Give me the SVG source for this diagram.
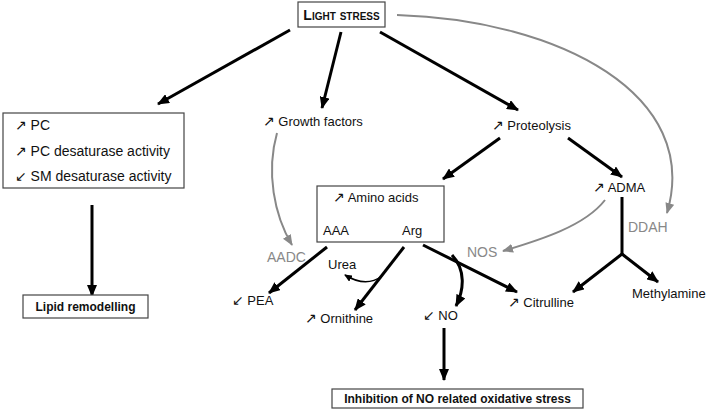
<svg xmlns="http://www.w3.org/2000/svg" width="708" height="411" viewBox="0 0 708 411">
<defs>
<marker id="ab" markerUnits="userSpaceOnUse" markerWidth="12" markerHeight="10" refX="11" refY="5" orient="auto"><path d="M0,0 L12,5 L0,10 z" fill="#000"/></marker>
<marker id="ag" markerUnits="userSpaceOnUse" markerWidth="11" markerHeight="9" refX="10" refY="4.5" orient="auto"><path d="M0,0 L11,4.5 L0,9 z" fill="#888"/></marker>
<marker id="as" markerUnits="userSpaceOnUse" markerWidth="8" markerHeight="7" refX="7" refY="3.5" orient="auto"><path d="M0,0 L8,3.5 L0,7 z" fill="#000"/></marker>
<style>
text{font-family:"Liberation Sans",Arial,sans-serif;font-size:13px;fill:#111}
.ar{font-family:"DejaVu Sans",sans-serif;font-size:14px}
.l{font-size:14px}
.b{font-weight:bold;font-size:12px}
.g{fill:#888;font-size:14px}
.box{fill:#fff;stroke:#444;stroke-width:1.2}
.k{fill:none;stroke:#000;stroke-width:3;marker-end:url(#ab)}
.gr{fill:none;stroke:#888;stroke-width:2;marker-end:url(#ag)}
.ln{fill:none;stroke:#000;stroke-width:3}
</style>
</defs>
<g id="connectors">
<line class="k" x1="290" y1="30" x2="158" y2="104"/>
<line class="k" x1="341" y1="32" x2="322" y2="108"/>
<line class="k" x1="380" y1="32" x2="518" y2="110"/>
<path class="gr" d="M397,15 C560,20 702,95 667,213"/>
<line class="k" x1="92" y1="205" x2="92" y2="296"/>
<path class="gr" d="M277,133 C266,172 274,215 292,245"/>
<line class="k" x1="500" y1="138" x2="443" y2="179"/>
<line class="k" x1="568" y1="138" x2="622" y2="177"/>
<path class="gr" d="M605,200 C585,226 540,240 503,251"/>
<line class="ln" x1="622" y1="197" x2="622" y2="254"/>
<line class="k" x1="622" y1="254" x2="573" y2="292"/>
<line class="k" x1="622" y1="254" x2="658" y2="282"/>
<line class="k" x1="327" y1="247" x2="269" y2="293"/>
<line class="k" x1="404" y1="247" x2="355" y2="310"/>
<path d="M382,276 Q366,288 345,275" fill="none" stroke="#000" stroke-width="1.5" marker-end="url(#as)"/>
<line class="k" x1="423" y1="245" x2="517" y2="292"/>
<path class="k" d="M452,255 C466,270 464,290 456,306"/>
<line class="k" x1="444" y1="328" x2="444" y2="380"/>
</g>
<g id="light-stress">
<rect class="box" x="298" y="2" width="87" height="25"/>
<text x="341.5" y="20" text-anchor="middle" style="font-weight:bold;font-size:14px;font-variant:small-caps">Light stress</text>
</g>
<g id="lipid-changes">
<rect class="box" x="3" y="113" width="181" height="75"/>
<text class="l" x="15" y="130"><tspan class="ar">↗</tspan> PC</text>
<text class="l" x="15" y="156"><tspan class="ar">↗</tspan> PC desaturase activity</text>
<text class="l" x="15" y="181"><tspan class="ar">↙</tspan> SM desaturase activity</text>
</g>
<g id="lipid-remodelling">
<rect class="box" x="23" y="295" width="125" height="23"/>
<text class="b" x="85.5" y="311" text-anchor="middle">Lipid remodelling</text>
</g>
<g id="growth-factors"><text x="263" y="126"><tspan class="ar">↗</tspan> Growth factors</text></g>
<g id="proteolysis"><text x="492" y="130"><tspan class="ar">↗</tspan> Proteolysis</text></g>
<g id="amino-acids">
<rect class="box" x="317" y="186" width="127" height="56"/>
<text x="333" y="202"><tspan class="ar">↗</tspan> Amino acids</text>
<text x="323" y="235">AAA</text>
<text x="402" y="235">Arg</text>
</g>
<g id="adma"><text x="593" y="192"><tspan class="ar">↗</tspan> ADMA</text></g>
<g id="ddah"><text class="g" x="628" y="232">DDAH</text></g>
<g id="nos"><text class="g" x="467" y="257">NOS</text></g>
<g id="aadc"><text class="g" x="267" y="262">AADC</text></g>
<g id="urea"><text x="328" y="269">Urea</text></g>
<g id="pea"><text x="232" y="305"><tspan class="ar">↙</tspan> PEA</text></g>
<g id="ornithine"><text x="305" y="323"><tspan class="ar">↗</tspan> Ornithine</text></g>
<g id="no"><text x="423" y="320"><tspan class="ar">↙</tspan> NO</text></g>
<g id="citrulline"><text x="508" y="307"><tspan class="ar">↗</tspan> Citrulline</text></g>
<g id="methylamine"><text x="632" y="298">Methylamine</text></g>
<g id="inhibition">
<rect class="box" x="332" y="389" width="251" height="19"/>
<text class="b" x="457.5" y="403" text-anchor="middle">Inhibition of NO related oxidative stress</text>
</g>
</svg>
